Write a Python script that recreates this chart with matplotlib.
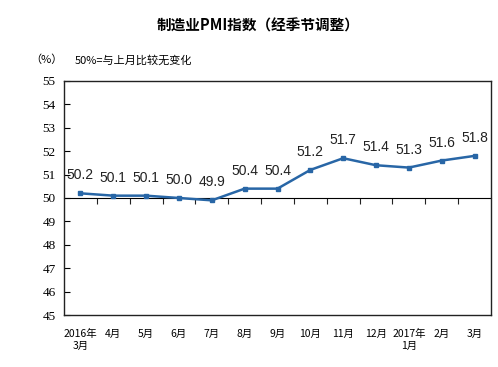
import numpy as np
import matplotlib.pyplot as plt
from matplotlib.ticker import NullFormatter

plt.rcParams['font.family'] = ['Noto Sans CJK SC', 'DejaVu Sans']

months = ['2016年\n3月', '4月', '5月', '6月', '7月', '8月', '9月', '10月',
          '11月', '12月', '2017年\n1月', '2月', '3月']
pmi = [50.2, 50.1, 50.1, 50.0, 49.9, 50.4, 50.4, 51.2, 51.7, 51.4, 51.3, 51.6, 51.8]
y_ticks = [45, 46, 47, 48, 49, 50, 51, 52, 53, 54, 55]

line_color = '#2866a6'

fig = plt.figure(figsize=(4.98, 3.67), dpi=100)
ax = fig.add_axes([64 / 498, 1 - 315 / 367, 427 / 498, 234 / 367])

x = np.arange(len(pmi))
ax.plot(x, pmi, color=line_color, lw=1.8, marker='s', ms=3.5, zorder=3)

for xi, v in zip(x, pmi):
    ax.annotate(f'{v:.1f}', (xi, v), xytext=(0, 13), textcoords='offset points',
                ha='center', va='center', fontsize=10, family='Liberation Sans',
                color='#222222')

ax.set_xlim(-0.5, len(pmi) - 0.5)
ax.set_ylim(45, 55)
ax.set_yticks(y_ticks)
ax.set_yticklabels([str(t) for t in y_ticks], family='Liberation Serif', fontsize=9.5)
ax.tick_params(axis='y', direction='in', length=4, pad=6)
ax.set_xticks(x)
ax.set_xticklabels(months, fontsize=7.5, linespacing=1.3)
ax.tick_params(axis='x', length=0, pad=10)

for sp in ax.spines.values():
    sp.set_linewidth(1.0)
    sp.set_color('#222222')

# 50 baseline with category boundary ticks
mid = ax.secondary_xaxis(0.5)
mid.set_xticks(np.arange(0.5, len(pmi) - 1, 1.0))
mid.xaxis.set_major_formatter(NullFormatter())
mid.tick_params(direction='in', length=4, color='#222222')
mid.spines['bottom'].set_linewidth(1.0)
mid.spines['bottom'].set_color('#222222')

fig.text(258 / 498, 1 - 26 / 367, '制造业PMI指数（经季节调整）', ha='center', va='center',
         fontsize=10.5, fontweight='bold')
fig.text(30 / 498, 1 - 60 / 367, '（%）', ha='left', va='center', fontsize=8)
fig.text(75 / 498, 1 - 60 / 367, '50%=与上月比较无变化', ha='left', va='center', fontsize=8)

fig.savefig('out.png', dpi=100)
